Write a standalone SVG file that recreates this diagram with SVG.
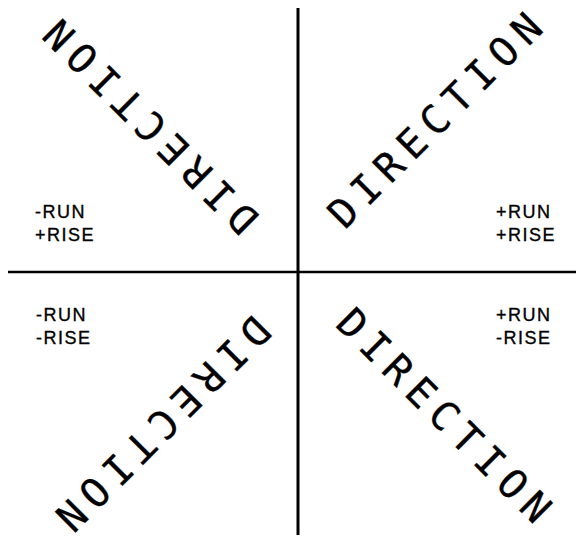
<svg xmlns="http://www.w3.org/2000/svg" width="576" height="540" viewBox="0 0 576 540">
<style>
.dir{font-family:"DejaVu Sans Mono","Liberation Mono",monospace;font-size:40px;letter-spacing:8.3px;fill:#000;stroke:#000;stroke-width:0.3}
.lbl{font-family:"Liberation Sans",Arial,sans-serif;font-size:18px;letter-spacing:1.5px;fill:#000;stroke:#000;stroke-width:0.35}
.ax{stroke:#000;fill:none}
</style>
<rect width="576" height="540" fill="#fff"/>
<g id="axes">
<line class="ax" x1="298" y1="8" x2="298" y2="535" stroke-width="3"/>
<line class="ax" x1="8" y1="272" x2="576" y2="272" stroke-width="2.5"/>
</g>
<g id="q1" transform="translate(434.5,120) rotate(-45)"><text class="dir" x="-141.6" y="14.6">DIRECTION</text></g>
<g id="q2" transform="translate(150.5,127) rotate(-135)"><text class="dir" x="-141.6" y="14.6">DIRECTION</text></g>
<g id="q3" transform="translate(163.5,424) rotate(135)"><text class="dir" x="-141.6" y="14.6">DIRECTION</text></g>
<g id="q4" transform="translate(444.5,415) rotate(45)"><text class="dir" x="-141.6" y="14.6">DIRECTION</text></g>
<g id="l1"><text class="lbl" x="496" y="218">+RUN</text><text class="lbl" x="496" y="241">+RISE</text></g>
<g id="l2"><text class="lbl" x="35" y="218">-RUN</text><text class="lbl" x="35" y="241">+RISE</text></g>
<g id="l3"><text class="lbl" x="36" y="321">-RUN</text><text class="lbl" x="36" y="344">-RISE</text></g>
<g id="l4"><text class="lbl" x="496" y="321">+RUN</text><text class="lbl" x="496" y="344">-RISE</text></g>
</svg>
